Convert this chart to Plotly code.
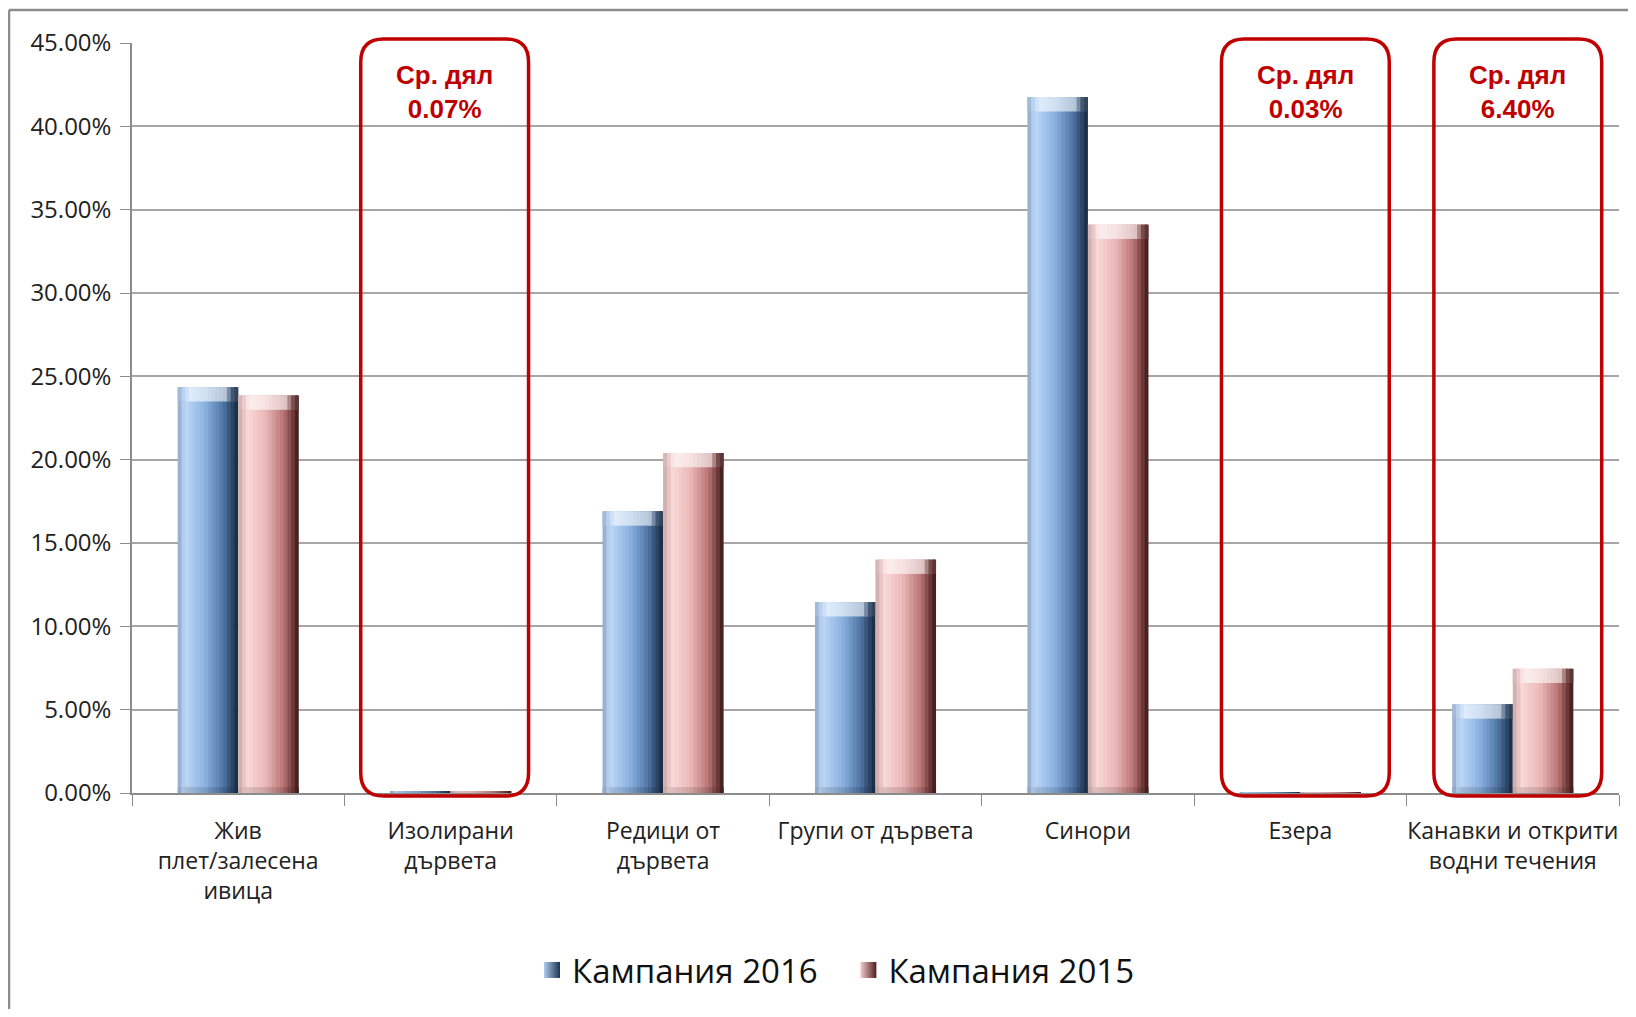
import plotly.graph_objects as go

categories = [
    "Жив<br>плет/залесена<br>ивица",
    "Изолирани<br>дървета",
    "Редици от<br>дървета",
    "Групи от дървета",
    "Синори",
    "Езера",
    "Канавки и открити<br>водни течения",
]
series_names = ["Кампания 2016", "Кампания 2015"]
values_2016 = [24.35, 0.07, 16.9, 11.45, 41.75, 0.03, 5.32]
values_2015 = [23.85, 0.07, 20.4, 14.0, 34.1, 0.03, 7.45]
y_ticks = [0, 5, 10, 15, 20, 25, 30, 35, 40, 45]
y_tick_labels = ["0.00%", "5.00%", "10.00%", "15.00%", "20.00%", "25.00%",
                 "30.00%", "35.00%", "40.00%", "45.00%"]
box_categories = [1, 5, 6]
box_texts = ["Ср. дял<br>0.07%", "Ср. дял<br>0.03%", "Ср. дял<br>6.40%"]
box_dx_px = [-6, 5, 5]  # small hand-placement offsets of the highlight boxes

OFF = 8  # page body margin
W, H = 1620, 1001
ML, MT = 132 - OFF, 43 - OFF
PW = 1619 - 132
PH = 793 - 43
MR = W - ML - PW
MB = H - MT - PH
YMAX = 45

BAR_W = 0.285
N_STRIPS = 16

blue_stops = [(0.0, (140, 165, 200)), (0.12, (190, 216, 247)), (0.45, (140, 178, 226)),
              (0.75, (80, 118, 166)), (1.0, (22, 38, 60))]
pink_stops = [(0.0, (200, 165, 165)), (0.15, (249, 216, 216)), (0.45, (236, 184, 184)),
              (0.75, (186, 116, 116)), (1.0, (58, 20, 20))]


def interp(stops, t):
    for (t0, c0), (t1, c1) in zip(stops[:-1], stops[1:]):
        if t0 <= t <= t1:
            f = (t - t0) / (t1 - t0) if t1 > t0 else 0
            return tuple(c0[k] + (c1[k] - c0[k]) * f for k in range(3))
    return stops[-1][1]


def rgb(c, white=0.0, dark=0.0):
    c = [c[k] + (255 - c[k]) * white for k in range(3)]
    c = [v * (1 - dark) for v in c]
    return "rgb(%d,%d,%d)" % tuple(int(round(v)) for v in c)


fig = go.Figure()

series = [(series_names[0], values_2016, blue_stops, -BAR_W),
          (series_names[1], values_2015, pink_stops, 0.0)]

cap_data = 0.85  # top bevel height in data units
bot_data = 0.35  # bottom bevel height in data units
for name, vals, stops, off in series:
    sw = BAR_W / N_STRIPS
    for i in range(N_STRIPS):
        t = (i + 0.5) / N_STRIPS
        c = interp(stops, t)
        w = sw * (1.6 if i < N_STRIPS - 1 else 1.0)
        fig.add_trace(go.Bar(x=categories, y=vals, width=w, offset=off + i * sw,
                             marker=dict(color=rgb(c), line=dict(width=0)),
                             showlegend=False, hoverinfo="skip"))
    for i in range(N_STRIPS):
        t = (i + 0.5) / N_STRIPS
        c = interp(stops, t)
        w = sw * (1.6 if i < N_STRIPS - 1 else 1.0)
        edge = min(t, 1 - t)
        wf = 0.6 if edge > 0.2 else (0.3 if edge > 0.1 else 0.1)
        caps = [min(cap_data, v) for v in vals]
        bases = [v - cp for v, cp in zip(vals, caps)]
        fig.add_trace(go.Bar(x=categories, y=caps, base=bases, width=w,
                             offset=off + i * sw,
                             marker=dict(color=rgb(c, wf), line=dict(width=0)),
                             showlegend=False, hoverinfo="skip"))
        bots = [min(bot_data, v) for v in vals]
        fig.add_trace(go.Bar(x=categories, y=bots, width=w, offset=off + i * sw,
                             marker=dict(color=rgb(c, 0.0, 0.12 if edge > 0.1 else 0.05),
                                         line=dict(width=0)),
                             showlegend=False, hoverinfo="skip"))

# legend entries
legend_cols = [("rgb(175,205,240)", "rgb(30,50,80)"), ("rgb(245,205,205)", "rgb(80,30,30)")]
legend_pad = ["\u00a0\u00a0\u00a0", ""]
for (name, vals, stops, off), (c1, c2), pad in zip(series, legend_cols, legend_pad):
    fig.add_trace(go.Scatter(x=[categories[0]], y=[None], mode="markers", name=name + pad,
                             marker=dict(symbol="square", size=16, color=c1,
                                         gradient=dict(type="horizontal", color=c2),
                                         line=dict(width=0))))

# rounded red boxes (paper coordinates computed from category index)
r_px = 23
box_w_units = 0.79
shapes = []
annotations = []
for ci, txt, dx in zip(box_categories, box_texts, box_dx_px):
    xc = (ci + 0.5) / len(categories) + dx / PW
    half = box_w_units / 2 / len(categories)
    x0, x1 = xc - half, xc + half
    y0 = -(3 / PH)
    y1 = 1 + (4 / PH)
    rx = r_px / PW
    ry = r_px / PH
    path = (f"M {x0 + rx},{y1} L {x1 - rx},{y1} Q {x1},{y1} {x1},{y1 - ry} "
            f"L {x1},{y0 + ry} Q {x1},{y0} {x1 - rx},{y0} L {x0 + rx},{y0} "
            f"Q {x0},{y0} {x0},{y0 + ry} L {x0},{y1 - ry} Q {x0},{y1} {x0 + rx},{y1} Z")
    shapes.append(dict(type="path", path=path, xref="paper", yref="paper",
                       line=dict(color="#c00000", width=3.5), layer="above"))
    annotations.append(dict(x=xc, y=1 - 49 / PH, xref="paper", yref="paper",
                            text=txt, showarrow=False, xanchor="center", yanchor="middle",
                            align="center",
                            font=dict(family="Liberation Sans", size=26, color="#c00000",
                                      weight="bold")))

# outer chart frame (left and top edges)
fx0 = (9 - 132) / PW
fy1 = 1 + (43 - 10) / PH
shapes.append(dict(type="line", xref="paper", yref="paper", x0=fx0, x1=fx0,
                   y0=fy1, y1=-(MB + 20) / PH, line=dict(color="#8c8c8c", width=2.5)))
shapes.append(dict(type="line", xref="paper", yref="paper", x0=fx0, x1=(W + 20 - ML) / PW,
                   y0=fy1, y1=fy1, line=dict(color="#8c8c8c", width=2.5)))

fig.update_layout(
    width=W, height=H,
    margin=dict(l=ML, r=MR, t=MT, b=MB, autoexpand=False),
    barmode="overlay",
    paper_bgcolor="white", plot_bgcolor="white",
    font=dict(family="Open Sans", size=23, color="#222222"),
    shapes=shapes, annotations=annotations,
    legend=dict(orientation="h", x=(836 - 132) / PW, xanchor="center",
                y=-(970 - 793) / PH, yanchor="middle",
                font=dict(family="Open Sans", size=33, color="#111111"),
                traceorder="normal"),
    showlegend=True,
)
fig.update_xaxes(type="category", showline=True, linecolor="#8c8c8c", linewidth=1.5,
                 ticks="outside", tickson="boundaries", ticklen=11, tickcolor="#8c8c8c",
                 showgrid=False, tickfont=dict(size=23, color="#222222"),
                 tickangle=0, automargin=False,
                 ticklabelstandoff=17, range=[-0.5, len(categories) - 0.5])
fig.update_yaxes(range=[0, YMAX], tickvals=y_ticks, ticktext=y_tick_labels,
                 showline=True, linecolor="#8c8c8c", linewidth=1.5,
                 ticks="outside", ticklen=10, tickcolor="#8c8c8c",
                 showgrid=True, gridcolor="#a6a6a6", gridwidth=1.5, automargin=False,
                 tickfont=dict(size=24, color="#222222"), ticklabelstandoff=4,
                 zeroline=False)

fig.write_html("out.html")
